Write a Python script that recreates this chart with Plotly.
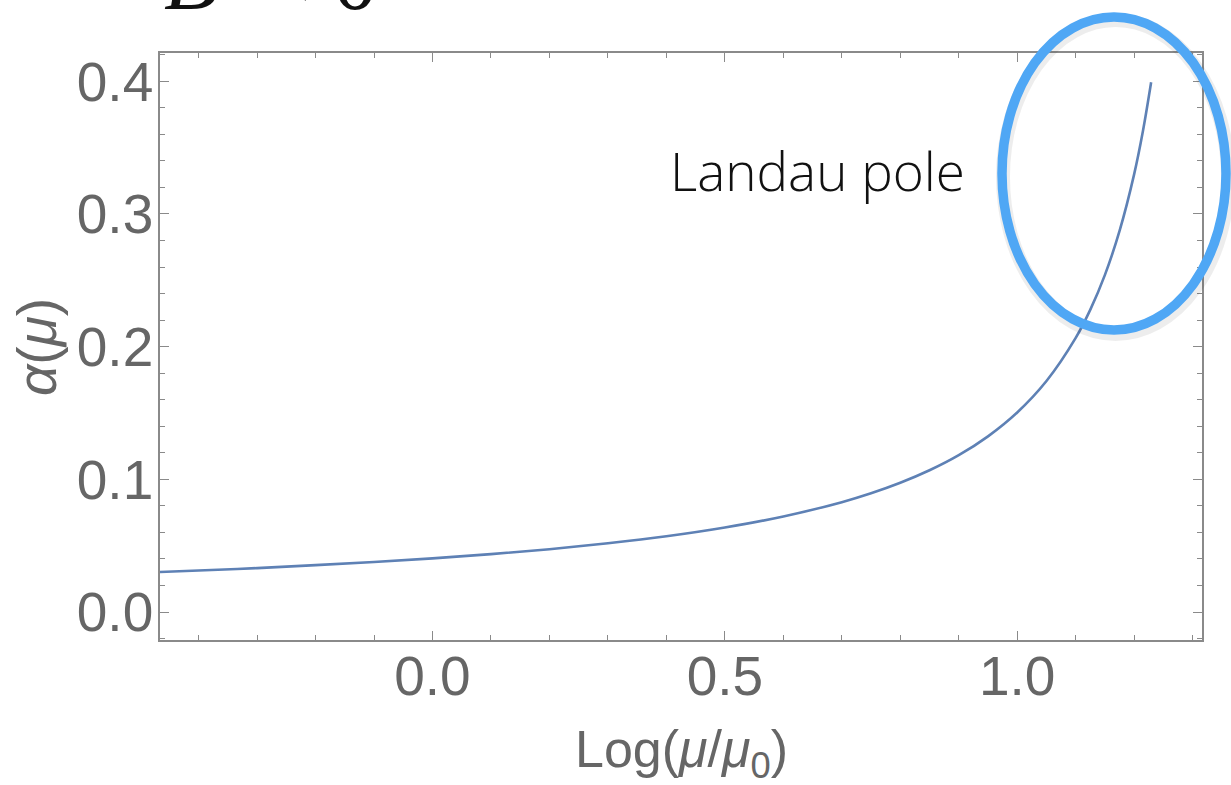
import plotly.graph_objects as go

# values
log_mu = [-0.466, -0.4, -0.3, -0.2, -0.1, 0.0, 0.1, 0.2, 0.3, 0.4, 0.5, 0.6, 0.7,
          0.75, 0.8, 0.85, 0.9, 0.95, 1.0, 1.05, 1.1, 1.125, 1.15, 1.175, 1.2, 1.215, 1.229]
alpha = [0.0301, 0.0313, 0.0331, 0.0353, 0.0377, 0.0404, 0.0436, 0.0473, 0.0518, 0.0571,
         0.0637, 0.0720, 0.0828, 0.0895, 0.0974, 0.1068, 0.1182, 0.1324, 0.1504, 0.1741,
         0.2066, 0.2279, 0.2541, 0.2872, 0.3300, 0.3625, 0.3992]
x_ticks = [0.0, 0.5, 1.0]
x_tick_labels = ["0.0", "0.5", "1.0"]
y_ticks = [0.0, 0.1, 0.2, 0.3, 0.4]
y_tick_labels = ["0.0", "0.1", "0.2", "0.3", "0.4"]

L, R, T, B = 160, 29, 53, 145
W, H = 1231, 785
pw, ph = W - L - R, H - T - B

def px(xp):
    return (xp - L) / pw

def py(yp):
    return (H - B - yp) / ph

frame = "#8a8a8a"
sans = "Liberation Sans, Arial, sans-serif"
tickfont = dict(family=sans, size=55, color="#666666")

fig = go.Figure()
fig.add_trace(go.Scatter(x=log_mu, y=alpha, mode="lines",
                         line=dict(color="#5E81B5", width=2.6, shape="spline"),
                         hoverinfo="skip", showlegend=False))

fig.update_xaxes(range=[-0.466, 1.316], showgrid=False, zeroline=False, automargin=False,
                 showline=True, linecolor=frame, linewidth=1.5, mirror="allticks",
                 ticks="inside", ticklen=9, tickwidth=1.2, tickcolor=frame,
                 tickvals=x_ticks, ticktext=x_tick_labels, tickfont=tickfont,
                 ticklabelstandoff=-13,
                 minor=dict(dtick=0.1, tick0=0, ticks="inside", ticklen=5,
                            tickwidth=1.0, tickcolor=frame, showgrid=False))
fig.update_yaxes(range=[-0.0211, 0.4213], showgrid=False, zeroline=False, automargin=False,
                 showline=True, linecolor=frame, linewidth=1.5, mirror="allticks",
                 ticks="inside", ticklen=9, tickwidth=1.2, tickcolor=frame,
                 tickvals=y_ticks, ticktext=y_tick_labels, tickfont=tickfont,
                 ticklabelstandoff=-6,
                 minor=dict(dtick=0.02, tick0=0, ticks="inside", ticklen=5,
                            tickwidth=1.0, tickcolor=frame, showgrid=False))

# ellipse soft shadow + ellipse
fig.add_shape(type="circle", xref="paper", yref="paper",
              x0=px(1003), x1=px(1228), y0=py(334), y1=py(20),
              line=dict(color="rgba(0,0,0,0.07)", width=14), layer="above")
fig.add_shape(type="circle", xref="paper", yref="paper",
              x0=px(1002), x1=px(1226), y0=py(330), y1=py(17),
              line=dict(color="#4FA7F5", width=9.5), layer="above")

fig.add_annotation(text="Landau pole", xref="paper", yref="paper",
                   x=px(817), y=py(170), xanchor="center", yanchor="middle",
                   showarrow=False,
                   font=dict(family="Open Sans, Liberation Sans, sans-serif", size=53,
                             color="#111111", weight=300))
fig.add_annotation(text="Log(<i>μ</i>/<i>μ</i><sub>0</sub>)", xref="paper", yref="paper",
                   x=px(681), y=py(753), xanchor="center", yanchor="middle",
                   showarrow=False, font=dict(family=sans, size=52, color="#666666"))
fig.add_annotation(text="<i>α</i>(<i>μ</i>)", xref="paper", yref="paper",
                   x=px(37), y=py(347), xanchor="center", yanchor="middle",
                   textangle=-90, showarrow=False,
                   font=dict(family=sans, size=55, color="#666666"))
fig.add_annotation(text="<i>B</i>&nbsp;&#8201;&lt;&nbsp;0", xref="paper", yref="paper",
                   x=px(162), y=py(30), xanchor="left", yanchor="bottom",
                   showarrow=False,
                   font=dict(family="Liberation Serif, Times New Roman, serif", size=90,
                             color="#111111"))

fig.update_layout(width=W, height=H, margin=dict(l=L, r=R, t=T, b=B),
                  paper_bgcolor="white", plot_bgcolor="white")
fig.write_html("out.html", config={"displayModeBar": False},
               post_script="document.body.style.margin='0';document.body.style.padding='0';")
